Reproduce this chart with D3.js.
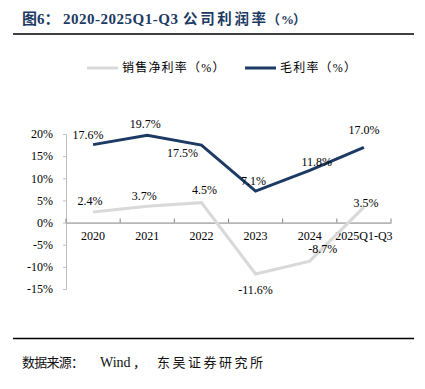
<!DOCTYPE html>
<html>
<head>
<meta charset="utf-8">
<script src="https://cdn.jsdelivr.net/npm/d3@7"></script>
<style>
  body { margin: 0; background: #fff; }
  svg text { font-family: "Liberation Serif", "Times New Roman", "Noto Sans CJK SC", serif; }
</style>
</head>
<body>
<div id="chart"></div>
<script>
const categories = ["2020", "2021", "2022", "2023", "2024", "2025Q1-Q3"];
const netMargin = [2.4, 3.7, 4.5, -11.6, -8.7, 3.5];
const grossMargin = [17.6, 19.7, 17.5, 7.1, 11.8, 17.0];
const yTicks = [20, 15, 10, 5, 0, -5, -10, -15];
const seriesNames = ["销售净利率（%）", "毛利率（%）"];

const width = 425;
const height = 389;
const navy = "#1c3a63";
const grey = "#d9d9d9";

const svg = d3
  .select("#chart")
  .append("svg")
  .attr("width", width)
  .attr("height", height);

// title + rules
const title = svg
  .append("text")
  .attr("y", 24)
  .attr("fill", navy)
  .attr("font-weight", "bold");
title.append("tspan").attr("x", 22).attr("font-size", "15px").text("图6：");
title.append("tspan").attr("x", 63).attr("font-size", "15px")
  .attr("textLength", 115).attr("lengthAdjust", "spacing").text("2020-2025Q1-Q3");
title.append("tspan").attr("x", 183).attr("font-size", "14.5px")
  .attr("textLength", 83).attr("lengthAdjust", "spacing").text("公司利润率");
title.append("tspan").attr("x", 267).attr("font-size", "13px").text("（");
title.append("tspan").attr("x", 281).attr("font-size", "13px").text("%");
title.append("tspan").attr("x", 293).attr("font-size", "13px").text("）");

svg.append("line").attr("x1", 13).attr("x2", 414).attr("y1", 34).attr("y2", 34)
  .attr("stroke", "#000").attr("stroke-width", 1.5);
svg.append("line").attr("x1", 13).attr("x2", 414).attr("y1", 338.5).attr("y2", 338.5)
  .attr("stroke", "#000").attr("stroke-width", 1.5);

const source = svg
  .append("text")
  .attr("y", 367)
  .attr("fill", "#111")
  .attr("font-size", "13px");
source.append("tspan").attr("x", 22)
  .attr("textLength", 62).attr("lengthAdjust", "spacing").text("数据来源：");
source.append("tspan").attr("x", 100).attr("font-size", "14px").text("Wind");
source.append("tspan").attr("x", 133).text("，");
source.append("tspan").attr("x", 157)
  .attr("textLength", 106).attr("lengthAdjust", "spacing").text("东吴证券研究所");

// scales
const x = d3.scaleBand().domain(categories).range([66, 391]);
const y = d3.scaleLinear().domain([-15, 20]).range([289, 134]);
const cx = (d) => x(d) + x.bandwidth() / 2;

// y axis
const yAxis = svg
  .append("g")
  .attr("transform", "translate(66,0)")
  .call(d3.axisLeft(y).tickValues(yTicks).tickSize(3).tickPadding(10).tickFormat((d) => d + "%"));
yAxis.select(".domain").attr("stroke", "#bfbfbf").attr("stroke-width", 1);
yAxis.selectAll(".tick line").attr("stroke", "#bfbfbf");
yAxis.selectAll("text").attr("font-size", "12px").attr("fill", "#000")
  .style("font-family", "Liberation Serif, serif");

// x axis at zero
const xAxis = svg
  .append("g")
  .attr("transform", `translate(0,${y(0)})`)
  .call(d3.axisBottom(x).tickSize(0).tickPadding(9));
xAxis.select(".domain").attr("stroke", "#808080");
xAxis.selectAll("text").attr("font-size", "12px").attr("fill", "#000")
  .style("font-family", "Liberation Serif, serif");
xAxis
  .selectAll(".edge")
  .data(categories.map((c) => x(c)).concat([x.range()[1]]))
  .enter()
  .append("line")
  .attr("x1", (d) => d)
  .attr("x2", (d) => d)
  .attr("y1", -4)
  .attr("y2", 0)
  .attr("stroke", "#808080");

// lines
const line = d3
  .line()
  .x((d, i) => cx(categories[i]))
  .y((d) => y(d));

svg.append("path").datum(netMargin).attr("d", line)
  .attr("fill", "none").attr("stroke", grey).attr("stroke-width", 3);
svg.append("path").datum(grossMargin).attr("d", line)
  .attr("fill", "none").attr("stroke", navy).attr("stroke-width", 3);

// data labels (offsets to mimic the original placement)
const grossOffsets = [[-5, -10], [-2, -12], [-19, 8], [-2, -10], [7, -9], [0, -17]];
const netOffsets = [[-3, -11], [-3, -10], [3, -13], [0, 16], [13, -12], [2, -4]];

function addLabels(values, offsets) {
  svg
    .append("g")
    .selectAll("text")
    .data(values)
    .enter()
    .append("text")
    .attr("x", (d, i) => cx(categories[i]) + offsets[i][0])
    .attr("y", (d, i) => y(d) + offsets[i][1])
    .attr("dy", "0.35em")
    .attr("text-anchor", "middle")
    .attr("font-size", "12px")
    .attr("fill", "#000")
    .text((d) => d.toFixed(1) + "%");
}
addLabels(grossMargin, grossOffsets);
addLabels(netMargin, netOffsets);

// legend
const legend = svg.append("g").attr("transform", "translate(0,68)");
[[87, grey, seriesNames[0]], [245, navy, seriesNames[1]]].forEach(([lx, color, name]) => {
  legend.append("line").attr("x1", lx).attr("x2", lx + 31).attr("y1", 0).attr("y2", 0)
    .attr("stroke", color).attr("stroke-width", 3);
  legend.append("text").attr("x", lx + 35).attr("y", 0).attr("dy", "0.35em")
    .attr("font-size", "12px").attr("letter-spacing", "1.2px").attr("fill", "#000").text(name);
});
</script>
</body>
</html>
